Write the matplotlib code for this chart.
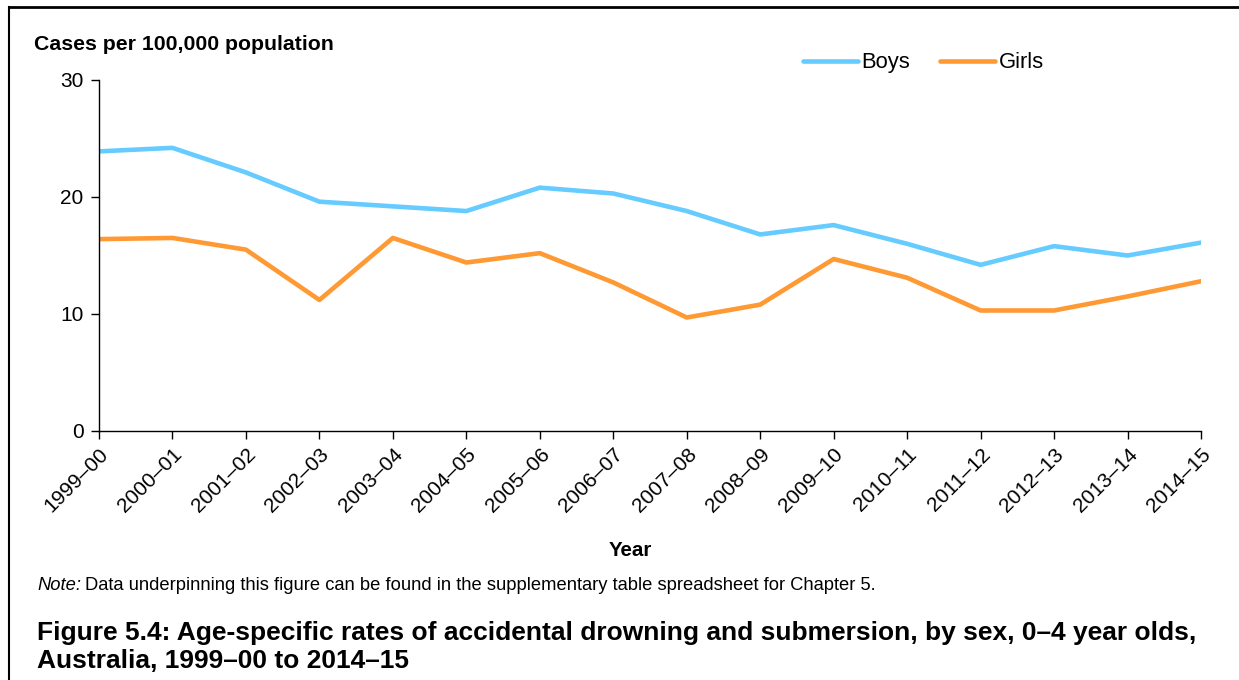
import matplotlib
matplotlib.use("Agg")
import matplotlib.pyplot as plt
from matplotlib.lines import Line2D

plt.rcParams["font.family"] = ["Liberation Sans", "DejaVu Sans"]

years = ["1999–00", "2000–01", "2001–02", "2002–03", "2003–04", "2004–05",
         "2005–06", "2006–07", "2007–08", "2008–09", "2009–10", "2010–11",
         "2011–12", "2012–13", "2013–14", "2014–15"]
boys = [23.9, 24.2, 22.1, 19.6, 19.2, 18.8, 20.8, 20.3,
        18.8, 16.8, 17.6, 16.0, 14.2, 15.8, 15.0, 16.1]
girls = [16.4, 16.5, 15.5, 11.2, 16.5, 14.4, 15.2, 12.7,
         9.7, 10.8, 14.7, 13.1, 10.3, 10.3, 11.5, 12.8]

BOYS_COLOR = "#66CCFF"
GIRLS_COLOR = "#FF9933"

fig = plt.figure(figsize=(12.39, 6.8), dpi=100)
ax = fig.add_axes([99 / 1239, 1 - 431 / 680, 1102 / 1239, 351 / 680])

x = list(range(len(years)))
ax.plot(x, boys, color=BOYS_COLOR, linewidth=3.3, label="Boys", solid_capstyle="round")
ax.plot(x, girls, color=GIRLS_COLOR, linewidth=3.3, label="Girls", solid_capstyle="round")

ax.set_xlim(0, len(years) - 1)
ax.set_ylim(0, 30)
ax.set_yticks([0, 10, 20, 30])
ax.set_xticks(x)
ax.set_xticklabels(years, rotation=45, ha="right", rotation_mode="anchor", fontsize=15)
ax.tick_params(axis="y", labelsize=15, length=6, width=1, pad=5)
ax.tick_params(axis="x", length=6, width=1, pad=4)
for s in ["top", "right"]:
    ax.spines[s].set_visible(False)
for s in ["left", "bottom"]:
    ax.spines[s].set_linewidth(1)

ax.legend(loc="center left", bbox_to_anchor=(684 / 1102, 1 + 17 / 351), ncol=2, frameon=False,
          fontsize=15.8, handlelength=2.5, handletextpad=0.15, columnspacing=1.4)

fig.text(34 / 1239, 1 - 44 / 680, "Cases per 100,000 population", fontsize=15.3,
         fontweight="bold", va="center", ha="left")
fig.text(630 / 1239, 1 - 550 / 680, "Year", fontsize=14.8, fontweight="bold",
         va="center", ha="center")

note = fig.text(37 / 1239, 1 - 585 / 680, "Note:", fontsize=13.2, style="italic", va="center")
ax.annotate("Data underpinning this figure can be found in the supplementary table spreadsheet for Chapter 5.",
            xy=(1, 0.5), xycoords=note, xytext=(3, 0), textcoords="offset points",
            fontsize=13.2, va="center", annotation_clip=False)
fig.text(37 / 1239, 1 - 647 / 680,
         "Figure 5.4: Age-specific rates of accidental drowning and submersion, by sex, 0–4 year olds,\n"
         "Australia, 1999–00 to 2014–15",
         fontsize=19, fontweight="bold", va="center", linespacing=1.22)

# frame lines (top and left only)
fig.add_artist(Line2D([9 / 1239, 1], [1 - 7 / 680, 1 - 7 / 680], color="black", linewidth=2,
                      transform=fig.transFigure))
fig.add_artist(Line2D([9 / 1239, 9 / 1239], [0, 1 - 7 / 680], color="black", linewidth=1.5,
                      transform=fig.transFigure))

fig.savefig("out.png", dpi=100)
